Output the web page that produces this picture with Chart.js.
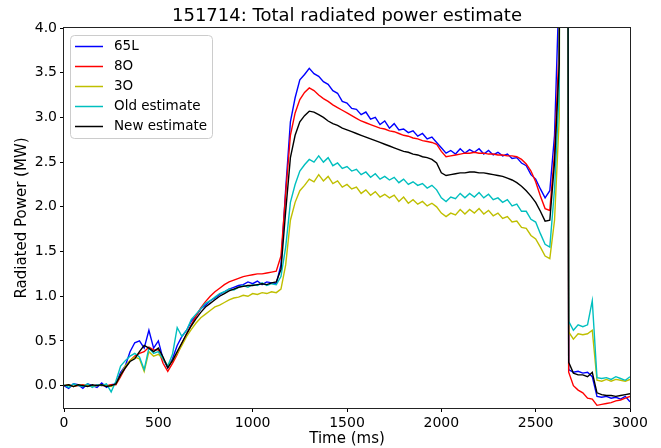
<!DOCTYPE html>
<html>
<head>
<meta charset="utf-8">
<script src="https://cdn.jsdelivr.net/npm/chart.js@4.4.0/dist/chart.umd.min.js"></script>
<style>
body { margin: 0; background: #fff; }
</style>
</head>
<body>
<canvas id="GraficoRadiacao" width="661" height="448"></canvas>
<script>
// tempo (ms), amostrado a cada 25 ms
const times = [
    0, 25, 50, 75, 100, 125, 150, 175, 200, 225, 250,
    275, 300, 325, 350, 375, 400, 425, 450, 475, 500,
    525, 550, 575, 600, 625, 650, 675, 700, 725, 750,
    775, 800, 825, 850, 875, 900, 925, 950, 975, 1000,
    1025, 1050, 1075, 1100, 1125, 1150, 1175, 1200, 1225, 1250,
    1275, 1300, 1325, 1350, 1375, 1400, 1425, 1450, 1475, 1500,
    1525, 1550, 1575, 1600, 1625, 1650, 1675, 1700, 1725, 1750,
    1775, 1800, 1825, 1850, 1875, 1900, 1925, 1950, 1975, 2000,
    2025, 2050, 2075, 2100, 2125, 2150, 2175, 2200, 2225, 2250,
    2275, 2300, 2325, 2350, 2375, 2400, 2425, 2450, 2475, 2500,
    2525, 2550, 2575, 2600, 2625, 2650, 2675, 2700, 2725, 2750,
    2775, 2800, 2825, 2850, 2875, 2900, 2925, 2950, 2975, 3000
];

const xTicks = [0, 500, 1000, 1500, 2000, 2500, 3000];
const yTicks = [0, 0.5, 1.0, 1.5, 2.0, 2.5, 3.0, 3.5, 4.0];

const seriesNames = ['65L', '8O', '3O', 'Old estimate', 'New estimate'];
const seriesColors = ['#0000ff', '#ff0000', '#bfbf00', '#00bfbf', '#000000'];

const p65L = [
    0.00, -0.03, 0.02, 0.01, -0.03, 0.02, 0.00, -0.02, 0.03, -0.02, 0.01,
    0.02, 0.15, 0.22, 0.38, 0.48, 0.50, 0.42, 0.62, 0.42, 0.50,
    0.30, 0.20, 0.30, 0.45, 0.55, 0.62, 0.72, 0.78, 0.86, 0.90,
    0.95, 0.98, 1.02, 1.05, 1.08, 1.10, 1.12, 1.13, 1.16, 1.14,
    1.17, 1.13, 1.16, 1.15, 1.14, 1.35, 2.20, 2.95, 3.22, 3.42,
    3.48, 3.55, 3.49, 3.46, 3.40, 3.37, 3.30, 3.27, 3.18, 3.16,
    3.10, 3.09, 3.03, 3.06, 2.98, 3.00, 2.92, 2.96, 2.88, 2.93,
    2.86, 2.87, 2.83, 2.85, 2.79, 2.82, 2.76, 2.78, 2.72, 2.66,
    2.60, 2.63, 2.59, 2.65, 2.60, 2.64, 2.61, 2.65, 2.59, 2.63,
    2.58, 2.61, 2.57, 2.59, 2.54, 2.55, 2.49, 2.46, 2.36, 2.31,
    2.20, 2.10, 2.18, 2.80, 4.50, 30, 0.18, 0.15, 0.16, 0.14,
    0.15, 0.10, -0.12, -0.13, -0.12, -0.14, -0.13, -0.15, -0.12, -0.18
];

const p8O = [
    0.00, 0.01, -0.01, 0.00, 0.01, 0.00, -0.01, 0.01, 0.00, 0.00, 0.01,
    0.01, 0.10, 0.20, 0.28, 0.33, 0.36, 0.38, 0.43, 0.40, 0.40,
    0.25, 0.16, 0.25, 0.35, 0.47, 0.58, 0.68, 0.78, 0.87, 0.94,
    1.00, 1.05, 1.09, 1.13, 1.16, 1.18, 1.20, 1.22, 1.23, 1.24,
    1.25, 1.25, 1.26, 1.27, 1.28, 1.45, 2.15, 2.80, 3.05, 3.20,
    3.28, 3.33, 3.30, 3.25, 3.21, 3.18, 3.14, 3.11, 3.08, 3.05,
    3.02, 2.99, 2.96, 2.94, 2.92, 2.90, 2.88, 2.87, 2.85, 2.84,
    2.82, 2.80, 2.79, 2.77, 2.76, 2.74, 2.73, 2.72, 2.70, 2.62,
    2.56, 2.57, 2.58, 2.59, 2.60, 2.60, 2.61, 2.60, 2.60, 2.59,
    2.59, 2.58, 2.58, 2.57, 2.57, 2.56, 2.53, 2.48, 2.40, 2.28,
    2.12, 1.98, 1.96, 2.60, 3.80, 30, 0.15, 0.00, -0.05, -0.08,
    -0.14, -0.15, -0.22, -0.21, -0.20, -0.19, -0.17, -0.16, -0.14, -0.12
];

const p3O = [
    0.00, 0.01, -0.01, 0.01, 0.00, 0.01, -0.01, 0.00, 0.01, 0.00, -0.01,
    0.02, 0.12, 0.22, 0.28, 0.32, 0.30, 0.16, 0.38, 0.33, 0.35,
    0.30, 0.22, 0.28, 0.36, 0.45, 0.55, 0.63, 0.70, 0.76, 0.80,
    0.84, 0.88, 0.90, 0.93, 0.96, 0.98, 0.99, 1.01, 1.00, 1.03,
    1.02, 1.04, 1.03, 1.05, 1.04, 1.08, 1.35, 1.85, 2.05, 2.18,
    2.24, 2.31, 2.28, 2.36, 2.29, 2.34, 2.26, 2.29, 2.22, 2.25,
    2.20, 2.22, 2.15, 2.19, 2.13, 2.17, 2.11, 2.14, 2.10, 2.13,
    2.06, 2.11, 2.04, 2.08, 2.03, 2.06, 2.01, 2.04, 2.00, 1.93,
    1.89, 1.93, 1.91, 1.97, 1.92, 1.97, 1.93, 1.98, 1.92, 1.96,
    1.90, 1.93, 1.87, 1.89, 1.83, 1.84, 1.77, 1.76, 1.68, 1.64,
    1.55, 1.45, 1.42, 1.85, 3.00, 30, 0.60, 0.52, 0.58, 0.57,
    0.58, 0.62, 0.06, 0.05, 0.07, 0.05, 0.07, 0.06, 0.05, 0.07
];

const pOld = [
    0.01, -0.02, 0.02, 0.00, -0.01, 0.02, -0.02, 0.01, 0.00, 0.02, -0.07,
    0.05, 0.22, 0.28, 0.33, 0.36, 0.32, 0.18, 0.42, 0.36, 0.38,
    0.30, 0.22, 0.35, 0.65, 0.55, 0.62, 0.74, 0.80, 0.86, 0.92,
    0.95, 0.99, 1.03, 1.05, 1.08, 1.07, 1.10, 1.12, 1.10, 1.13,
    1.12, 1.15, 1.12, 1.14, 1.13, 1.22, 1.55, 2.05, 2.25, 2.40,
    2.47, 2.53, 2.50, 2.57, 2.50, 2.55, 2.46, 2.49, 2.43, 2.45,
    2.40, 2.42, 2.36, 2.39, 2.33, 2.37, 2.31, 2.34, 2.30, 2.33,
    2.27, 2.31, 2.25, 2.28, 2.24, 2.26, 2.21, 2.24, 2.19, 2.10,
    2.06, 2.11, 2.09, 2.15, 2.10, 2.15, 2.11, 2.16, 2.10, 2.14,
    2.08, 2.10, 2.05, 2.08, 2.01, 2.03, 1.95, 1.95, 1.86, 1.83,
    1.70, 1.58, 1.55, 2.20, 3.30, 30, 0.72, 0.62, 0.68, 0.66,
    0.68, 0.95, 0.09, 0.08, 0.09, 0.07, 0.10, 0.08, 0.06, 0.10
];

const pNew = [
    0.00, 0.01, -0.01, 0.01, 0.00, -0.01, 0.01, 0.00, 0.01, -0.01, 0.00,
    0.02, 0.12, 0.20, 0.27, 0.30, 0.38, 0.45, 0.42, 0.38, 0.42,
    0.32, 0.20, 0.28, 0.38, 0.48, 0.58, 0.67, 0.75, 0.82, 0.88,
    0.92, 0.96, 1.00, 1.03, 1.06, 1.08, 1.10, 1.11, 1.12, 1.12,
    1.13, 1.14, 1.13, 1.15, 1.16, 1.30, 1.95, 2.55, 2.80, 2.95,
    3.02, 3.07, 3.06, 3.03, 3.00, 2.96, 2.93, 2.91, 2.88, 2.86,
    2.84, 2.82, 2.80, 2.78, 2.76, 2.74, 2.72, 2.70, 2.68, 2.66,
    2.64, 2.62, 2.61, 2.59, 2.58, 2.56, 2.55, 2.53, 2.49, 2.38,
    2.35, 2.36, 2.37, 2.38, 2.38, 2.39, 2.39, 2.38, 2.38, 2.37,
    2.36, 2.35, 2.34, 2.32, 2.30, 2.27, 2.23, 2.18, 2.12, 2.05,
    1.95, 1.84, 1.85, 2.50, 3.60, 30, 0.26, 0.14, 0.12, 0.12,
    0.10, 0.15, -0.08, -0.10, -0.11, -0.11, -0.12, -0.11, -0.10, -0.09
];

const seriesValues = [p65L, p8O, p3O, pOld, pNew];

function pontos(valores) {
    return times.map((t, i) => ({ x: t, y: valores[i] }));
}

// titulo centrado sobre a area do grafico
const tituloPlugin = {
    id: 'tituloPlugin',
    afterDraw(chart) {
        const ctx = chart.ctx, a = chart.chartArea;
        ctx.save();
        ctx.font = '18px "DejaVu Sans"';
        ctx.fillStyle = '#000';
        ctx.textAlign = 'center';
        ctx.textBaseline = 'middle';
        ctx.fillText('151714: Total radiated power estimate', (a.left + a.right) / 2, 16);
        ctx.restore();
    }
};

// moldura completa e legenda dentro do grafico
const molduraPlugin = {
    id: 'molduraPlugin',
    afterDatasetsDraw(chart) {
        const ctx = chart.ctx, a = chart.chartArea;
        ctx.save();
        ctx.beginPath();
        ctx.roundRect(a.left + 6.5, a.top + 7.5, 142, 103, 4);
        ctx.fillStyle = 'rgba(255,255,255,0.8)';
        ctx.fill();
        ctx.strokeStyle = '#cccccc';
        ctx.lineWidth = 1;
        ctx.stroke();
        ctx.font = '13.5px "DejaVu Sans"';
        ctx.textBaseline = 'middle';
        chart.data.datasets.forEach((ds, i) => {
            const y = a.top + 18.5 + i * 20;
            ctx.strokeStyle = ds.borderColor;
            ctx.lineWidth = 1.5;
            ctx.beginPath();
            ctx.moveTo(a.left + 11, y);
            ctx.lineTo(a.left + 39, y);
            ctx.stroke();
            ctx.fillStyle = '#000';
            ctx.fillText(ds.label, a.left + 50, y);
        });
        ctx.strokeStyle = '#222';
        ctx.lineWidth = 1;
        ctx.strokeRect(Math.round(a.left) - 0.5, Math.round(a.top) - 0.5,
            Math.round(a.right - a.left) + 1, Math.round(a.bottom - a.top) + 1);
        ctx.restore();
    }
};

Chart.defaults.font.family = '"DejaVu Sans"';
Chart.defaults.color = '#000';

new Chart(document.getElementById('GraficoRadiacao'), {
    type: 'line',
    data: {
        datasets: seriesNames.map((nome, i) => ({
            label: nome,
            data: pontos(seriesValues[i]),
            borderColor: seriesColors[i],
            backgroundColor: seriesColors[i],
            borderWidth: 1.4,
            pointRadius: 0,
            tension: 0,
            fill: false,
            order: seriesNames.length - 1 - i
        }))
    },
    options: {
        responsive: false,
        animation: false,
        layout: { padding: { top: 28, right: 31, left: 0, bottom: 0 } },
        plugins: {
            legend: { display: false },
            title: { display: false },
            tooltip: { enabled: false }
        },
        scales: {
            x: {
                type: 'linear',
                min: 0,
                max: 3000,
                afterFit: s => { s.height = 40; },
                afterBuildTicks: s => { s.ticks = xTicks.map(v => ({ value: v })); },
                ticks: { font: { size: 14 }, padding: 3, maxRotation: 0, callback: v => String(v) },
                grid: { display: true, drawOnChartArea: false, drawTicks: true, tickLength: 4, color: '#000' },
                border: { display: false },
                title: { display: true, text: 'Time (ms)', font: { size: 15 }, padding: { top: 0, bottom: 0 } }
            },
            y: {
                type: 'linear',
                min: -0.25,
                max: 4.0,
                afterFit: s => { s.width = 64; },
                afterBuildTicks: s => { s.ticks = yTicks.map(v => ({ value: v })); },
                ticks: { font: { size: 14 }, padding: 3, callback: v => v.toFixed(1) },
                grid: { display: true, drawOnChartArea: false, drawTicks: true, tickLength: 4, color: '#000' },
                border: { display: false },
                title: { display: true, text: 'Radiated Power (MW)', font: { size: 15 }, padding: { top: 13, bottom: 0 } }
            }
        }
    },
    plugins: [tituloPlugin, molduraPlugin]
});
</script>
</body>
</html>
